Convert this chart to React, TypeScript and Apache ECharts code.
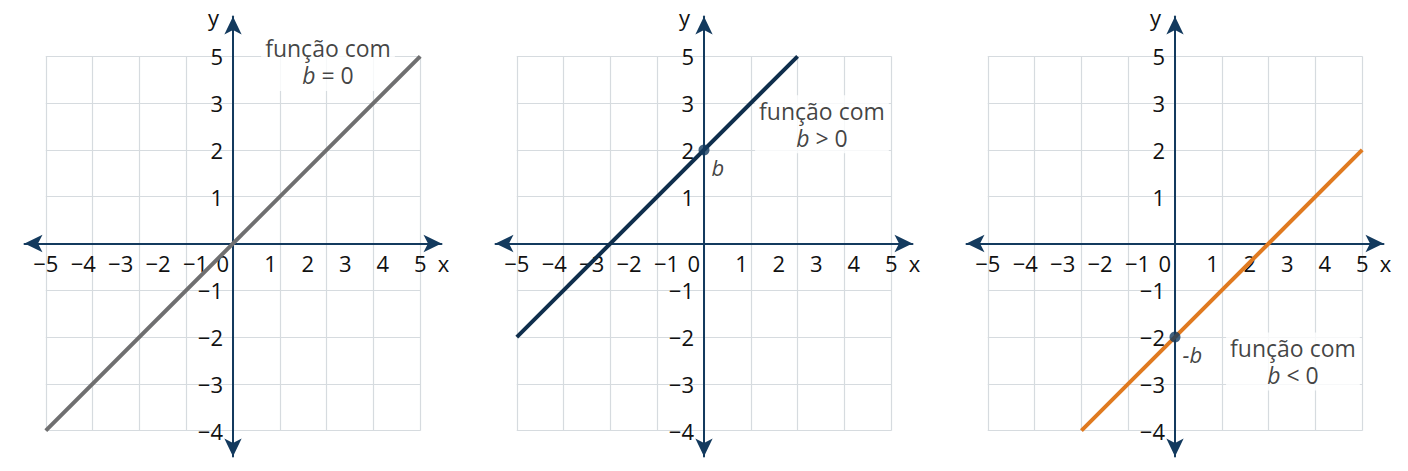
import * as echarts from 'echarts'
import React, { useEffect, useRef } from 'react'

// tick labels (positions are in grid units, one grid cell = 1)
const X_TICK_POS = [-4, -3.2, -2.4, -1.6, -0.8, -0.22, 0.8, 1.6, 2.4, 3.2, 4]
const X_TICK_TEXT = ['−5', '−4', '−3', '−2', '−1', '0', '1', '2', '3', '4', '5']
const Y_TICK_POS = [-4, -3, -2, -1, 1, 2, 3, 4]
const Y_TICK_TEXT = ['−4', '−3', '−2', '−1', '1', '2', '3', '5']

// the three lines y = x + b, endpoints in grid units
const LINE_B_ZERO = [[-4, -4], [4, 4]]
const LINE_B_POS = [[-4, -2], [2, 4]]
const LINE_B_NEG = [[-2, -4], [4, 2]]

// y-intercept dots (none in the first panel)
const INTERCEPTS = [null, [0, 2], [0, -2]]
const INTERCEPT_TEXT = ['', '{i|b}', '{i|-b}']

// note boxes "função com b ? 0"
const NOTE_POS = [[2.03, 3.88], [2.52, 2.55], [2.52, -2.52]]
const NOTE_SIGN = ['=', '>', '<']

const LINES = [LINE_B_ZERO, LINE_B_POS, LINE_B_NEG]
const LINE_COLORS = ['#6f6f70', '#0f2e4c', '#e07a20']

const AXIS_COLOR = '#133a5e'
const GRID_COLOR = '#d6dbdf'
const TEXT_COLOR = '#111111'
const FONT = 'Open Sans'

const U = 46.8
const CY = 243.5
const PANEL_X = [233, 704, 1175]

function pickText(v: number, pos: number[], text: string[]) {
  let best = 0
  for (let i = 1; i < pos.length; i++) {
    if (Math.abs(pos[i] - v) < Math.abs(pos[best] - v)) best = i
  }
  return text[best]
}

export default function App() {
  const chartRef = useRef(null)

  useEffect(() => {
    const chart = echarts.init(chartRef.current, null, { renderer: 'svg' })

    const grid: any[] = []
    const xAxis: any[] = []
    const yAxis: any[] = []
    const series: any[] = []

    const hidden = { type: 'value', show: false, min: 0, max: 1 }
    const axisLine = {
      show: true,
      onZero: false,
      symbol: ['arrow', 'arrow'],
      symbolSize: [13, 18],
      lineStyle: { color: AXIS_COLOR, width: 2 },
    }
    const labelFont = { fontSize: 22, color: TEXT_COLOR, fontFamily: FONT }

    PANEL_X.forEach((cx, k) => {
      const g = grid.length
      // inner square with the grid lines
      grid.push({ left: cx - 4 * U, top: CY - 4 * U, width: 8 * U, height: 8 * U, outerBoundsMode: 'none' })
      // thin strip whose bottom edge is the x axis
      grid.push({ left: cx - 4.455 * U, top: CY - 1, width: 8.91 * U, height: 1, outerBoundsMode: 'none' })
      // thin strip whose left edge is the y axis
      grid.push({ left: cx, top: CY - 4.85 * U, width: 1, height: 9.4 * U, outerBoundsMode: 'none' })

      const inner = {
        type: 'value',
        min: -4,
        max: 4,
        interval: 1,
        axisLine: { show: false },
        axisTick: { show: false },
        axisLabel: { show: false },
        splitLine: { show: true, lineStyle: { color: GRID_COLOR, width: 1.2 } },
      }
      xAxis.push({ ...inner, gridIndex: g })
      yAxis.push({ ...inner, gridIndex: g })

      xAxis.push({
        type: 'value',
        gridIndex: g + 1,
        position: 'bottom',
        min: -4.455,
        max: 4.455,
        axisLine,
        axisTick: { show: false },
        splitLine: { show: false },
        axisLabel: {
          customValues: X_TICK_POS,
          formatter: (v: number) => pickText(v, X_TICK_POS, X_TICK_TEXT),
          margin: 8,
          ...labelFont,
        },
        name: 'x',
        nameLocation: 'end',
        nameGap: 2,
        nameTextStyle: {
          ...labelFont,
          align: 'center',
          verticalAlign: 'top',
          padding: [8, 0, 0, 0],
        },
      })
      yAxis.push({ ...hidden, gridIndex: g + 1 })

      xAxis.push({ ...hidden, gridIndex: g + 2 })
      yAxis.push({
        type: 'value',
        gridIndex: g + 2,
        position: 'left',
        min: -4.55,
        max: 4.85,
        axisLine,
        axisTick: { show: false },
        splitLine: { show: false },
        axisLabel: {
          customValues: Y_TICK_POS,
          formatter: (v: number) => pickText(v, Y_TICK_POS, Y_TICK_TEXT),
          margin: 10,
          ...labelFont,
        },
        name: 'y',
        nameLocation: 'end',
        nameGap: 0,
        nameTextStyle: {
          ...labelFont,
          align: 'right',
          verticalAlign: 'middle',
          padding: [0, 14, 0, 0],
        },
      })

      series.push({
        type: 'line',
        xAxisIndex: g,
        yAxisIndex: g,
        data: LINES[k],
        symbol: 'none',
        lineStyle: { color: LINE_COLORS[k], width: 4 },
        z: 3,
      })

      series.push({
        type: 'scatter',
        xAxisIndex: g,
        yAxisIndex: g,
        data: [NOTE_POS[k]],
        symbolSize: 1,
        itemStyle: { color: 'rgba(0,0,0,0)' },
        z: 1,
        label: {
          show: true,
          position: 'inside',
          backgroundColor: '#ffffff',
          padding: [2, 4],
          formatter: '{t|função com}\n{i|b}{t| ' + NOTE_SIGN[k] + ' 0}',
          rich: {
            t: { fontSize: 23, lineHeight: 27, color: TEXT_COLOR, fontFamily: FONT },
            i: { fontSize: 23, lineHeight: 27, color: TEXT_COLOR, fontFamily: FONT, fontStyle: 'italic' },
          },
        },
      })

      const dot = INTERCEPTS[k]
      if (dot) {
        series.push({
          type: 'scatter',
          xAxisIndex: g,
          yAxisIndex: g,
          data: [dot],
          symbolSize: 11,
          itemStyle: { color: AXIS_COLOR },
          z: 4,
          label: {
            show: true,
            position: 'right',
            distance: 0,
            offset: [2, 17],
            formatter: INTERCEPT_TEXT[k],
            rich: {
              i: { fontSize: 22, color: TEXT_COLOR, fontFamily: FONT, fontStyle: 'italic' },
            },
          },
        })
      }
    })

    chart.setOption({
      animation: false,
      textStyle: { fontFamily: FONT },
      grid,
      xAxis,
      yAxis,
      series,
    })

    return () => {
      chart.dispose()
    }
  }, [])

  return (
    <div
      ref={chartRef}
      style={{ position: 'absolute', left: 0, top: 0, width: '1408px', height: '471px', background: '#fff' }}
    />
  )
}
